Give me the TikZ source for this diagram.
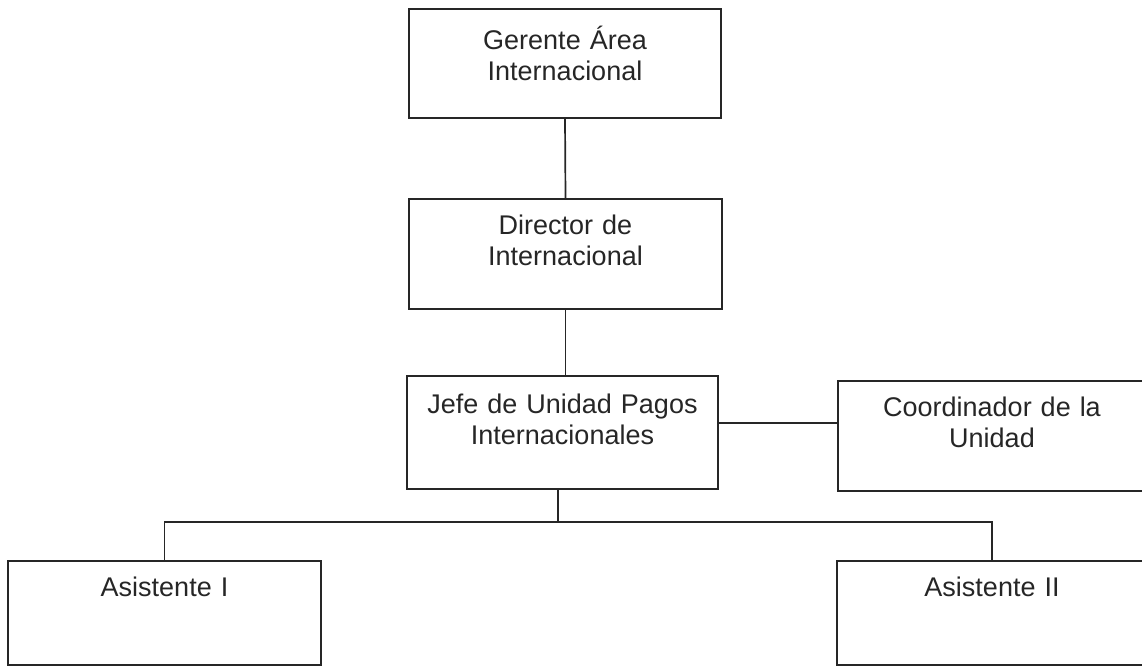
\documentclass[tikz,border=0pt]{standalone}
\usepackage{fontspec}
\setmainfont{Liberation Sans}
\usetikzlibrary{calc}
\definecolor{ink}{HTML}{262626}
\begin{document}
\begin{tikzpicture}[x=1pt,y=-1pt,
  box/.style={draw=ink, line width=1.7pt, inner sep=0pt, fill=none},
  lbl/.style={text=ink, inner sep=0pt, anchor=base, text width=300pt, align=center,
              font=\fontsize{27}{31}\selectfont},
  link/.style={draw=ink, line width=1.7pt}]
\useasboundingbox (0,0) rectangle (1142,669);

% boxes
\node[box, minimum width=312pt, minimum height=109pt] (b1) at (565,63.5) {};
\node[box, minimum width=313pt, minimum height=110pt] (b2) at (565.5,254) {};
\node[box, minimum width=311pt, minimum height=113pt] (b3) at (562.5,432.5) {};
\node[box, minimum width=308pt, minimum height=110pt] (b4) at (992,436) {};
\node[box, minimum width=313pt, minimum height=104pt] (b5) at (164.5,613) {};
\node[box, minimum width=310pt, minimum height=104pt] (b6) at (992,613) {};

% labels
\node[lbl] (t1) at ([yshift=-41pt]b1.north) {Gerente Área\\Internacional};
\node[lbl] (t2) at ([yshift=-36pt]b2.north) {Director de\\Internacional};
\node[lbl] (t3) at ([yshift=-38pt]b3.north) {Jefe de Unidad Pagos\\Internacionales};
\node[lbl] (t4) at ([yshift=-36pt]b4.north) {Coordinador de la\\Unidad};
\node[lbl] (t5) at ([yshift=-36pt]b5.north) {Asistente I};
\node[lbl] (t6) at ([yshift=-36pt]b6.north) {Asistente II};

% connectors
\coordinate (bus) at (558,522);
\draw[link] (b1.south) -- (b2.north);
\draw[link] (b2.south) -- (b2.south |- b3.north);
\draw[link] ([yshift=9.5pt]b3.east) -- ([yshift=9.5pt]b3.east -| b4.west);
\draw[link] ([xshift=-4.5pt]b3.south) -- (bus);
\draw[link] (b5.north) |- (bus) -| (b6.north);
\end{tikzpicture}
\end{document}
